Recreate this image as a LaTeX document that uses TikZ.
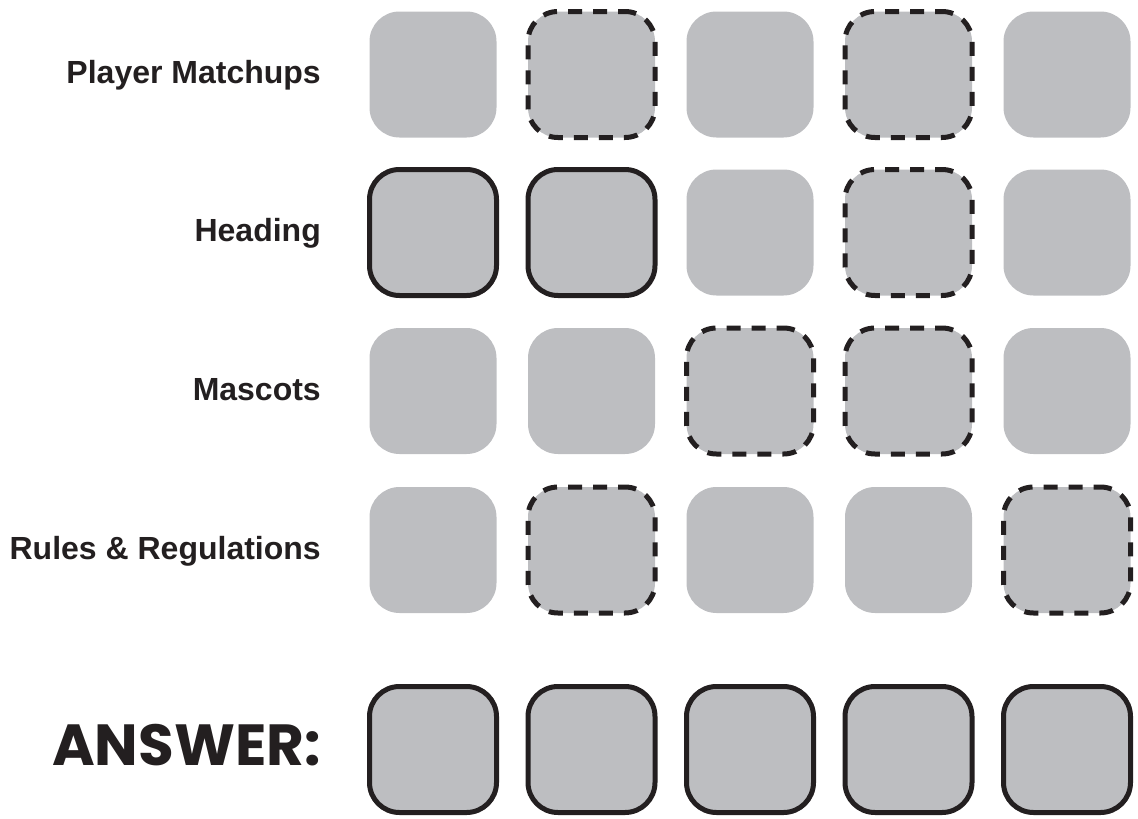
\documentclass[tikz,border=0pt]{standalone}
\usepackage{fontspec}
\setmainfont{Liberation Sans}
\newfontfamily\ansfont{Poppins}
\definecolor{boxgray}{RGB}{189,190,193}
\definecolor{ink}{RGB}{35,31,32}
\begin{document}
\begin{tikzpicture}[x=1pt,y=-1pt,
  tile/.style={rectangle,minimum width=127pt,minimum height=126pt,inner sep=0pt,
    rounded corners=30pt,fill=boxgray},
  plaintile/.style={tile},
  dashtile/.style={tile,draw=ink,line width=5pt,dash pattern=on 14pt off 11pt,dash phase=7pt},
  solidtile/.style={tile,draw=ink,line width=5pt},
  lbl/.style={anchor=base east,inner sep=0pt,font=\bfseries\fontsize{32}{32}\selectfont,text=ink},
  anslbl/.style={anchor=base east,inner sep=0pt,font=\ansfont\bfseries\fontsize{58}{58}\selectfont,text=ink}]
\useasboundingbox (0,0) rectangle (1138,819);
% row 1
\node[plaintile] (b11) at (433,74.5) {};
\node[dashtile]  (b12) at (591.5,74.5) {};
\node[plaintile] (b13) at (750,74.5) {};
\node[dashtile]  (b14) at (908.5,74.5) {};
\node[plaintile] (b15) at (1067,74.5) {};
% row 2
\node[solidtile] (b21) at (433,232.5) {};
\node[solidtile] (b22) at (591.5,232.5) {};
\node[plaintile] (b23) at (750,232.5) {};
\node[dashtile]  (b24) at (908.5,232.5) {};
\node[plaintile] (b25) at (1067,232.5) {};
% row 3
\node[plaintile] (b31) at (433,391) {};
\node[plaintile] (b32) at (591.5,391) {};
\node[dashtile]  (b33) at (750,391) {};
\node[dashtile]  (b34) at (908.5,391) {};
\node[plaintile] (b35) at (1067,391) {};
% row 4
\node[plaintile] (b41) at (433,550) {};
\node[dashtile]  (b42) at (591.5,550) {};
\node[plaintile] (b43) at (750,550) {};
\node[plaintile] (b44) at (908.5,550) {};
\node[dashtile]  (b45) at (1067,550) {};
% answer row
\node[solidtile] (a1) at (433,749.5) {};
\node[solidtile] (a2) at (591.5,749.5) {};
\node[solidtile] (a3) at (750,749.5) {};
\node[solidtile] (a4) at (908.5,749.5) {};
\node[solidtile] (a5) at (1067,749.5) {};
% labels
\node[lbl] (l1) at (321,83) {Player Matchups};
\node[lbl] (l2) at (321,241.5) {Heading};
\node[lbl] (l3) at (321,400) {Mascots};
\node[lbl] (l4) at (321,559) {Rules \& Regulations};
\node[anslbl] (ans) at (321,765) {ANSWER:};
\end{tikzpicture}
\end{document}
